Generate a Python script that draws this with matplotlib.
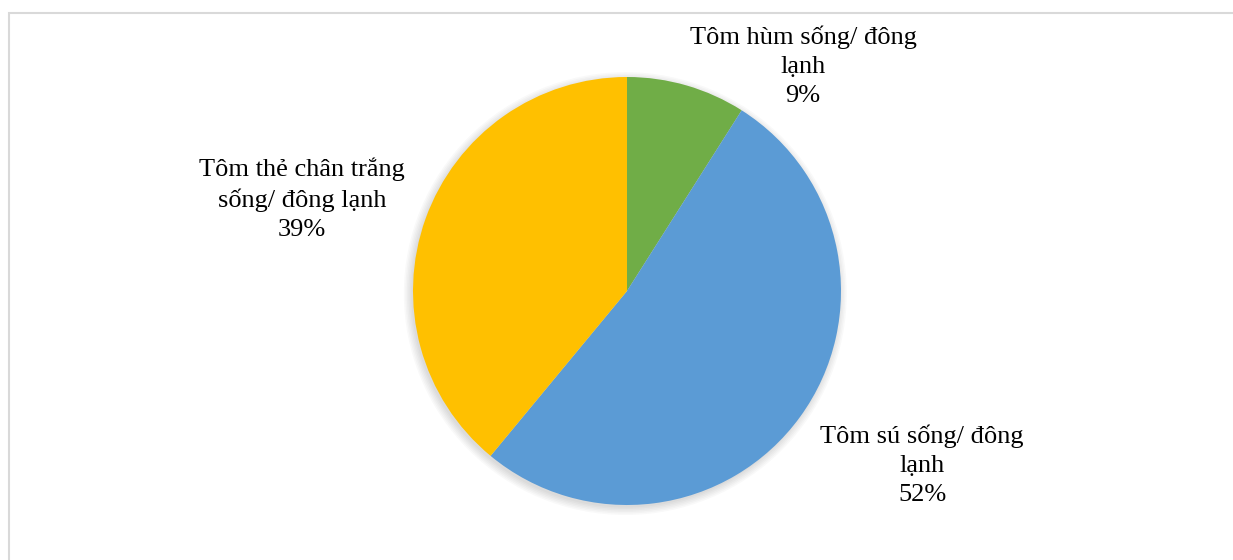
import matplotlib as mpl
mpl.use('Agg')
import matplotlib.pyplot as plt
from matplotlib.patches import Circle, Rectangle

LABELS = ["Tôm hùm sống/ đông\nlạnh", "Tôm sú sống/ đông\nlạnh", "Tôm thẻ chân trắng\nsống/ đông lạnh"]
SHARES = [9, 52, 39]
COLORS = ["#70AD47", "#5B9BD5", "#FFC000"]

# where each label block sits (figure pixels, top-left origin)
LABEL_POS = [(803, 66), (922, 465), (302, 199)]

W, H = 1233, 560
plt.rcParams['font.family'] = ['Liberation Serif', 'DejaVu Serif']

fig = plt.figure(figsize=(W / 100, H / 100), dpi=100)

# light grey chart frame
fig.patches.append(Rectangle((9 / W, -0.1), 1.2, (H - 13) / H + 0.1,
                             transform=fig.transFigure, fill=False,
                             edgecolor="#D9D9D9", linewidth=1.5))

cx, cy, r = 627, 291, 214
ax = fig.add_axes([(cx - r) / W, (H - cy - r) / H, 2 * r / W, 2 * r / H])
ax.axis('off')

# soft shadow behind the pie
for i in range(6):
    ax.add_patch(Circle((-0.008, -0.012), 1.0 + 0.007 * i, color='black',
                        alpha=0.025, lw=0, zorder=0, clip_on=False))

ax.pie(SHARES, colors=COLORS, startangle=90, counterclock=False, radius=1,
       wedgeprops=dict(linewidth=0, zorder=2))
ax.set_xlim(-1, 1)
ax.set_ylim(-1, 1)
ax.set_aspect('auto')

for lab, val, (px, py) in zip(LABELS, SHARES, LABEL_POS):
    fig.text(px / W, 1 - py / H, "%s\n%d%%" % (lab, val), ha='center', va='center',
             fontsize=19, linespacing=1.42, color='black')

plt.savefig('out.png', dpi=100)
plt.close(fig)
